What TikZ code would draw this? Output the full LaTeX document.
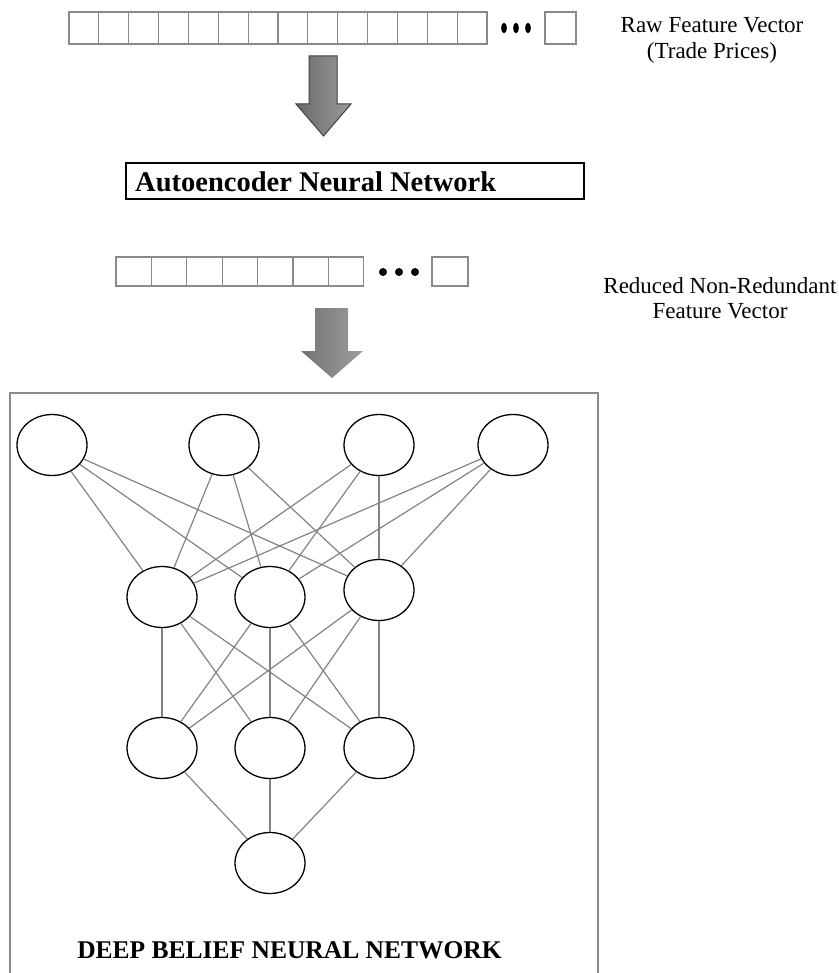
\documentclass[tikz,border=0pt]{standalone}
\usepackage{fontspec}
\setmainfont{Liberation Serif}
\usetikzlibrary{shapes.geometric}
\definecolor{cellgray}{HTML}{8A8A8A}
\definecolor{edgegray}{HTML}{838383}
\begin{document}
\begin{tikzpicture}[x=1pt,y=-1pt,
  cell/.style={draw=cellgray, line width=1.1pt, fill=white, inner sep=0pt},
  neuron/.style={ellipse, draw=black, line width=1.3pt, fill=white, inner sep=0pt, minimum width=70pt, minimum height=61pt},
  edge/.style={draw=edgegray, line width=1.2pt},
  lbl/.style={align=center, font=\fontsize{23}{25.5}\selectfont, inner sep=0pt},
  dotmark/.style={fill=black, draw=none}]
\useasboundingbox (0,0) rectangle (838,973);
% raw feature vector
\foreach \i in {1,...,14}
  \node[cell, minimum width=29.86pt, minimum height=32pt] (r\i) at ({69+29.86*(\i-0.5)},28) {};
\node[cell, minimum width=31pt, minimum height=32pt] (rlast) at (560.5,28) {};
\foreach \x [count=\k] in {504,516,528}
  \fill[dotmark] (\x,28) ellipse [x radius=2.9pt, y radius=5.3pt];
\node[lbl, anchor=base] (rawlbl) at (712,58.5) {Raw Feature Vector\\(Trade Prices)};
% arrow 1
\path[draw=black!75, line width=1pt, left color=black!58, right color=black!40]
  (309,56) -- (337,56) -- (337,104) -- (351,104) -- (323.5,136) -- (296,104) -- (309,104) -- cycle;
% autoencoder box
\node[draw=black, line width=2pt, minimum width=458pt, minimum height=36pt, inner sep=0pt] (ae) at (355,181) {};
\node[anchor=west, inner sep=0pt, font=\bfseries\fontsize{28.5}{30}\selectfont] (aetxt) at (135,182) {Autoencoder Neural Network};
% reduced vector
\foreach \i in {1,...,7}
  \node[cell, minimum width=35.4pt, minimum height=29pt] (s\i) at ({116+35.4*(\i-0.5)},271.5) {};
\node[cell, minimum width=36pt, minimum height=29pt] (slast) at (450,271.5) {};
\foreach \x in {383,399,415}
  \fill[dotmark] (\x,272) circle (4pt);
\node[lbl, anchor=base] (redlbl) at (720,318.5) {Reduced Non-Redundant\\Feature Vector};
% arrow 2
\path[draw=none, left color=black!55, right color=black!38]
  (315,308) -- (348,308) -- (348,351) -- (363,351) -- (332,378) -- (301,351) -- (315,351) -- cycle;
% DBN box (open at the bottom)
\draw[draw=cellgray, line width=1.5pt] (10,973) -- (10,393) -- (598,393) -- (598,973);
% neurons
\node[neuron] (T1) at (52,445) {};
\node[neuron] (T2) at (224,445) {};
\node[neuron] (T3) at (379,445) {};
\node[neuron] (T4) at (513,445) {};
\node[neuron] (M1) at (162,597) {};
\node[neuron] (M2) at (270,597) {};
\node[neuron] (M3) at (379,590) {};
\node[neuron] (D1) at (162,748) {};
\node[neuron] (D2) at (270,748) {};
\node[neuron] (D3) at (379,748) {};
\node[neuron] (G) at (270,863) {};
\foreach \a in {T1,T2,T3,T4}
  \foreach \b in {M1,M2,M3}
    \draw[edge] (\a) -- (\b);
\foreach \a in {M1,M2,M3}
  \foreach \b in {D1,D2,D3}
    \draw[edge] (\a) -- (\b);
\foreach \a in {D1,D2,D3}
  \draw[edge] (\a) -- (G);
\node[anchor=base, inner sep=0pt, font=\bfseries\fontsize{25.5}{27}\selectfont] (dbn) at (289.5,958) {DEEP BELIEF NEURAL NETWORK};
\end{tikzpicture}
\end{document}
